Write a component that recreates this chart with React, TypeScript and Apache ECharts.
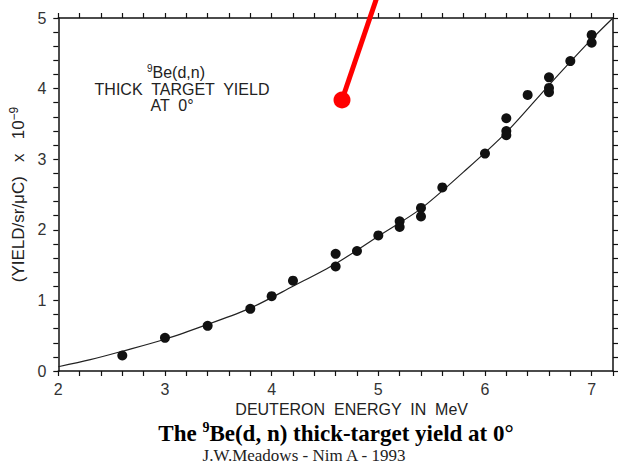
import React, { useEffect, useRef } from "react";
import * as echarts from "echarts";

// Measured thick-target yield points (deuteron energy in MeV, yield ×10⁻⁹ per sr per μC)
const measuredEnergy = [2.6, 3.0, 3.4, 3.8, 4.0, 4.2, 4.6, 4.6, 4.8, 5.0, 5.2, 5.2, 5.4, 5.4, 5.6, 6.0, 6.2, 6.2, 6.2, 6.4, 6.6, 6.6, 6.6, 6.8, 7.0, 7.0];
const measuredYield = [0.22, 0.47, 0.64, 0.88, 1.06, 1.28, 1.66, 1.48, 1.70, 1.92, 2.12, 2.04, 2.31, 2.19, 2.60, 3.08, 3.40, 3.34, 3.58, 3.91, 4.16, 4.01, 3.95, 4.39, 4.76, 4.65];

// Fitted curve
const fitEnergy = [2.0, 2.3, 2.6, 3.0, 3.4, 3.8, 4.2, 4.6, 5.0, 5.4, 5.8, 6.2, 6.6, 7.0, 7.2];
const fitYield = [0.06, 0.16, 0.28, 0.45, 0.66, 0.89, 1.2, 1.52, 1.91, 2.3, 2.82, 3.38, 4.05, 4.7, 5.0];

// Tick labels
const xLabelValues = [2, 3, 4, 5, 6, 7];
const yLabelValues = [0, 1, 2, 3, 4, 5];

const SANS = "'Liberation Sans', 'DejaVu Sans', Arial, sans-serif";
const SERIF = "'Liberation Serif', 'DejaVu Serif', 'Times New Roman', serif";

const labelFor = (values: number[]) => (v: number) => {
  const hit = values.find((t) => Math.abs(t - v) < 1e-6);
  return hit === undefined ? "" : String(hit);
};

const axisLineStyle = { color: "#111", width: 1.5 };
const tickStyle = { length: 5, lineStyle: { color: "#111", width: 1.2 } };

export default function App() {
  const ref = useRef<HTMLDivElement>(null);

  useEffect(() => {
    if (!ref.current) return;
    const chart = echarts.init(ref.current, undefined, { renderer: "svg" });

    const option: any = {
      animation: false,
      backgroundColor: "#ffffff",
      grid: { left: 58, right: 6, top: 18, bottom: 94, containLabel: false },
      xAxis: [
        {
          type: "value",
          min: 2,
          max: 7.2,
          interval: 0.2,
          position: "bottom",
          axisLine: { onZero: false, lineStyle: axisLineStyle },
          axisTick: tickStyle,
          splitLine: { show: false },
          axisLabel: {
            formatter: labelFor(xLabelValues),
            margin: 10,
            fontSize: 16,
            color: "#333",
            fontFamily: SANS,
          },
          name: "DEUTERON  ENERGY  IN  MeV",
          nameLocation: "middle",
          nameGap: 30,
          nameTextStyle: {
            fontSize: 16,
            color: "#222",
            fontFamily: SANS,
            padding: [0, 0, 0, 32],
          },
        },
        {
          type: "value",
          min: 2,
          max: 7.2,
          interval: 0.2,
          position: "top",
          axisLine: { onZero: false, lineStyle: axisLineStyle },
          axisTick: tickStyle,
          splitLine: { show: false },
          axisLabel: { show: false },
        },
      ],
      yAxis: [
        {
          type: "value",
          min: 0,
          max: 5,
          interval: 0.2,
          position: "left",
          axisLine: { show: true, onZero: false, lineStyle: axisLineStyle },
          axisTick: { show: true, ...tickStyle },
          splitLine: { show: false },
          axisLabel: {
            formatter: labelFor(yLabelValues),
            margin: 12,
            fontSize: 16,
            color: "#333",
            fontFamily: SANS,
          },
          name: "{m|(YIELD/sr/μC)   x   10}{s|−9}",
          nameLocation: "middle",
          nameRotate: 90,
          nameGap: 29,
          nameTextStyle: {
            fontSize: 17,
            color: "#222",
            fontFamily: SANS,
            rich: {
              m: { fontSize: 17, lineHeight: 20, color: "#222", fontFamily: SANS },
              s: { fontSize: 12, lineHeight: 20, verticalAlign: "top", color: "#222", fontFamily: SANS },
            },
          },
        },
        {
          type: "value",
          min: 0,
          max: 5,
          interval: 0.2,
          position: "right",
          axisLine: { show: true, onZero: false, lineStyle: axisLineStyle },
          axisTick: { show: true, ...tickStyle },
          splitLine: { show: false },
          axisLabel: { show: false },
        },
      ],
      series: [
        {
          type: "line",
          name: "fit",
          data: fitEnergy.map((e, i) => [e, fitYield[i]]),
          smooth: 0.3,
          showSymbol: false,
          symbol: "none",
          lineStyle: { color: "#222", width: 1.2 },
          z: 2,
        },
        {
          type: "scatter",
          name: "measured",
          data: measuredEnergy.map((e, i) => [e, measuredYield[i]]),
          symbol: "circle",
          symbolSize: 10,
          itemStyle: { color: "#111", opacity: 1 },
          z: 3,
        },
      ],
      graphic: [
        {
          type: "text",
          x: 176,
          y: 72,
          style: {
            text: "{s|9}{m|Be(d,n)}",
            align: "center",
            verticalAlign: "middle",
            fill: "#222",
            rich: {
              m: { fontSize: 16, lineHeight: 18, fontFamily: SANS, fill: "#222" },
              s: { fontSize: 10, lineHeight: 18, verticalAlign: "top", fontFamily: SANS, fill: "#222" },
            },
          },
        },
        {
          type: "text",
          x: 182,
          y: 89,
          style: {
            text: "THICK  TARGET  YIELD",
            align: "center",
            verticalAlign: "middle",
            fontSize: 16,
            fontFamily: SANS,
            fill: "#222",
          },
        },
        {
          type: "text",
          x: 172,
          y: 105,
          style: {
            text: "AT  0°",
            align: "center",
            verticalAlign: "middle",
            fontSize: 16,
            fontFamily: SANS,
            fill: "#222",
          },
        },
        {
          type: "text",
          x: 336,
          y: 433,
          style: {
            text: "{a|The }{s|9}{a|Be(d, n) thick-target yield at 0°}",
            align: "center",
            verticalAlign: "middle",
            fill: "#000",
            rich: {
              a: { fontSize: 23, lineHeight: 25, fontWeight: "bold", fontFamily: SERIF, fill: "#000" },
              s: { fontSize: 14, lineHeight: 25, verticalAlign: "top", fontWeight: "bold", fontFamily: SERIF, fill: "#000" },
            },
          },
        },
        {
          type: "text",
          x: 304,
          y: 455,
          style: {
            text: "J.W.Meadows - Nim A - 1993",
            align: "center",
            verticalAlign: "middle",
            fontSize: 17,
            fontFamily: SERIF,
            fill: "#222",
          },
        },
        {
          type: "line",
          shape: { x1: 377, y1: -3, x2: 342, y2: 100 },
          style: { stroke: "#ff0000", lineWidth: 5 },
          z: 100,
        },
        {
          type: "circle",
          shape: { cx: 342, cy: 100, r: 8.5 },
          style: { fill: "#ff0000" },
          z: 100,
        },
      ],
    };

    chart.setOption(option);
    return () => {
      chart.dispose();
    };
  }, []);

  return (
    <div
      ref={ref}
      style={{ position: "fixed", left: 0, top: 0, width: 619, height: 465, background: "#fff" }}
    />
  );
}
